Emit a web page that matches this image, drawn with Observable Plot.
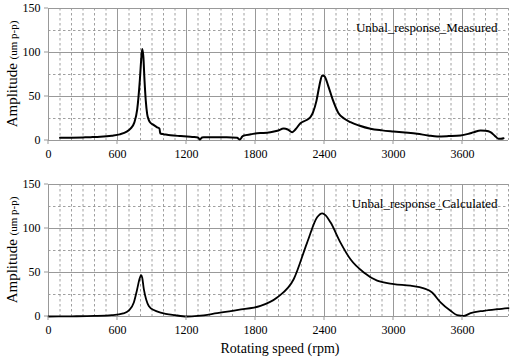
<!DOCTYPE html>
<html>
<head>
<meta charset="utf-8">
<script src="https://cdn.jsdelivr.net/npm/d3@7"></script>
<script src="https://cdn.jsdelivr.net/npm/@observablehq/plot@0.6"></script>
<style>
  body { margin: 0; background: #fff; }
  #wrap { position: relative; width: 510px; height: 358px; }
  #wrap svg { position: absolute; left: 0; }
  #wrap svg, #wrap svg text { font-family: "Liberation Serif", Tinos, "Times New Roman", "DejaVu Serif", serif !important; }
</style>
</head>
<body>
<div id="wrap"></div>
<script>
const SERIF = "'Liberation Serif', Tinos, 'Times New Roman', 'DejaVu Serif', serif";
// Measured response (rpm, amplitude um p-p)
const measuredRpm = [100,200,300,365,450,550,620,680,713,745,771,794,805,815,825,835,846,858,870,881,910,945,965,972,980,1000,1061,1150,1250,1300,1316,1335,1350,1450,1550,1640,1664,1685,1700,1760,1814,1870,1930,1990,2046,2080,2119,2150,2191,2240,2280,2300,2330,2355,2380,2400,2430,2470,2522,2570,2626,2700,2800,2900,3000,3100,3206,3300,3380,3480,3583,3650,3700,3757,3800,3843,3880,3913,3935,3957];
const measuredAmp = [3,3.2,3.5,3.8,4.3,5.5,7,10,13.5,20,35,68,90,104,95,68,45,30,24,21,18,15,13.5,8,7.6,7.2,6,5,4,3.5,1,3.5,3.8,3.8,3.8,3,1,4.5,5.7,7,8.3,8.5,9.3,11,13.5,12.5,9.5,13,19.7,23,27,32,45,62,74,73,63,47,31,25,20.8,17,13.3,11.5,10.2,9,7.6,5.8,4.6,5,5.7,7.5,9.5,11.4,11,9.5,5.5,2,2,2.6];

// Calculated response
const calculatedRpm = [0,200,400,550,650,700,742,771,790,806,815,829,850,872,920,974,1100,1206,1300,1467,1650,1843,1988,2133,2249,2336,2380,2410,2452,2539,2626,2742,2858,3003,3148,3264,3336,3409,3496,3554,3612,3670,3786,3900,4000];
const calculatedAmp = [0,0.2,0.6,1.5,3.5,7,16,31,42,47,44,31,19,12,7,4.5,1.5,0,0.7,3.8,7.5,12,21.6,42.6,84,112.7,117.3,115,107,84,65,50,40.7,36.9,35,31.9,27.3,16,6.5,1.6,0.8,3.8,6.5,8.3,9.6];

const xMinor = d3.range(0, 4001, 100).filter(v => v % 600 !== 0);
const xMajor = d3.range(0, 4001, 600);
const xTicks = [0, 600, 1200, 1800, 2400, 3000, 3600];
const yMinor = [25, 75, 125];
const yMajor = [50, 100, 150];
const yTicks = [0, 50, 100, 150];

const measured = measuredRpm.map((r, i) => ({rpm: r, amp: measuredAmp[i]}));
const calculated = calculatedRpm.map((r, i) => ({rpm: r, amp: calculatedAmp[i]}));

function panel(data, label, opts) {
  const svg = Plot.plot({
    width: 510,
    height: opts.height,
    marginLeft: 48,
    marginRight: 2,
    marginTop: opts.marginTop,
    marginBottom: opts.marginBottom,
    style: {fontFamily: SERIF, fontSize: "12px", color: "#000", background: "transparent"},
    x: {domain: [0, 4000], ticks: xTicks, tickFormat: d => String(d), tickSize: 0, tickPadding: 9, label: null},
    y: {domain: [0, 150], ticks: yTicks, tickSize: 0, tickPadding: 8, label: null},
    marks: [
      Plot.ruleX(xMinor, {stroke: "#888", strokeWidth: 0.8, strokeDasharray: "2.5,2.5"}),
      Plot.ruleY(yMinor, {stroke: "#888", strokeWidth: 0.8, strokeDasharray: "2.5,2.5"}),
      Plot.ruleX(xMajor, {stroke: "#999", strokeWidth: 1}),
      Plot.ruleY(yMajor, {stroke: "#999", strokeWidth: 1}),
      Plot.ruleY([0], {stroke: "#999", strokeWidth: 1}),
      Plot.line(data, {x: "rpm", y: "amp", stroke: "#000", strokeWidth: opts.sw, curve: "monotone-x"}),
      Plot.text([label], {frameAnchor: "top-right", dx: -11, dy: 14, fontSize: 13, fill: "#000", textAnchor: "end"})
    ]
  });
  const s = d3.select(svg);
  const x0 = 48, yB = opts.height - opts.marginBottom, yT = opts.marginTop;
  [0, 50, 100, 150].forEach(v => {
    const yy = yB - (yB - yT) * v / 150;
    s.append("line").attr("x1", x0 - 4).attr("x2", x0).attr("y1", yy).attr("y2", yy).attr("stroke", "#999");
  });
  xTicks.forEach(v => {
    const xx = x0 + (510 - 2 - x0) * v / 4000;
    s.append("line").attr("x1", xx).attr("x2", xx).attr("y1", yB).attr("y2", yB + 4).attr("stroke", "#999");
  });
  const t = s.append("text")
    .attr("transform", `translate(17,${(yT + yB) / 2}) rotate(-90)`)
    .attr("text-anchor", "middle")
    .attr("fill", "#000");
  t.append("tspan").attr("font-size", 15).text("Amplitude ");
  t.append("tspan").attr("font-size", 11).text("(um p-p)");
  if (opts.xLabel) {
    s.append("text")
      .attr("x", 280).attr("y", opts.height - 5)
      .attr("text-anchor", "middle")
      .attr("font-size", 14)
      .attr("fill", "#000")
      .text(opts.xLabel);
  }
  s.attr("font-family", SERIF);
  s.selectAll("text, g").attr("font-family", SERIF).style("font-family", SERIF);
  return svg;
}

const wrap = document.getElementById("wrap");
const top1 = panel(measured, "Unbal_response_Measured", {height: 175, marginTop: 8, marginBottom: 35, sw: 2});
top1.style.top = "0px";
wrap.appendChild(top1);
const bot = panel(calculated, "Unbal_response_Calculated", {height: 183, marginTop: 9, marginBottom: 42, sw: 1.8, xLabel: "Rotating speed (rpm)"});
bot.style.top = "175px";
wrap.appendChild(bot);
</script>
</body>
</html>
